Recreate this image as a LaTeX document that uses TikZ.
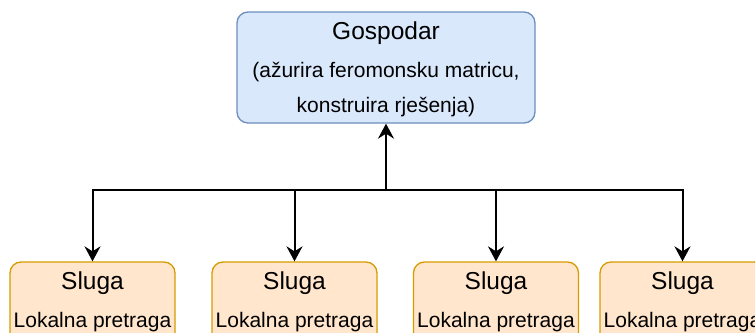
\documentclass[tikz,border=0pt]{standalone}
\usepackage{fontspec}
\setmainfont{Liberation Sans}
\usetikzlibrary{arrows.meta}
\definecolor{masterfill}{HTML}{DAE8FC}
\definecolor{masterline}{HTML}{6C8EBF}
\definecolor{slavefill}{HTML}{FFE6CC}
\definecolor{slaveline}{HTML}{D79B00}

\begin{document}
\begin{tikzpicture}[x=1pt,y=-1pt,
    masterbox/.style={draw=masterline,fill=masterfill,line width=1.3pt,rounded corners=11pt,
        minimum width=298pt,minimum height=111pt,inner sep=0pt},
    slavebox/.style={draw=slaveline,fill=slavefill,line width=1.3pt,rounded corners=11pt,
        minimum width=165pt,minimum height=120pt,inner sep=0pt},
    bigtext/.style={font=\fontsize{24.5}{29}\selectfont,inner sep=0pt},
    smalltext/.style={font=\fontsize{21}{25}\selectfont,inner sep=0pt},
    link/.style={line width=2pt,-{Stealth[length=15pt,width=16pt,inset=5pt]}}]
    \useasboundingbox (0,0) rectangle (755,332);
    \clip (0,0) rectangle (755,332);

    % Master
    \node[masterbox] (master) at (386,67.5) {};
    \node[bigtext] (mtitle) at (386,33) {Gospodar};
    \node[smalltext] (mline1) at (386,72) {(ažurira feromonsku matricu,};
    \node[smalltext] (mline2) at (386,107) {konstruira rješenja)};

    % Slaves
    \foreach \i/\x in {1/92.5,2/294.5,3/496,4/682.5}{
        \node[slavebox] (s\i) at (\x,322) {};
        \node[bigtext] (st\i) at (\x,283) {Sluga};
        \node[smalltext] (sl\i) at (\x,322) {Lokalna pretraga};
    }

    % Connectors
    \coordinate (hub) at (386,190);
    \draw[link] (hub) -- (master);
    \foreach \i in {1,...,4}
        \draw[link] (hub) -| (s\i);
\end{tikzpicture}
\end{document}
